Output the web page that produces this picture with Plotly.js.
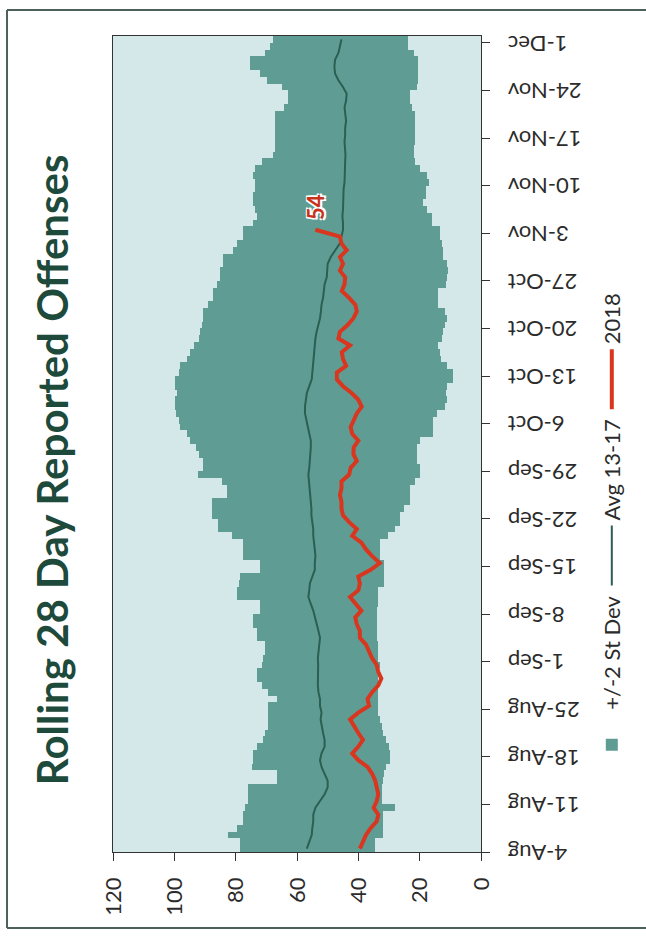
<!DOCTYPE html>
<html>
<head>
<meta charset="utf-8">
<script src="https://cdn.plot.ly/plotly-3.0.1.min.js"></script>
<style>
  html, body { margin: 0; padding: 0; background: #ffffff; overflow: hidden; }
  #wrap { position: absolute; left: 0; top: 0; width: 936px; height: 646px;
          transform-origin: 0 0; transform: translateY(936px) rotate(-90deg); }
  #chart { width: 936px; height: 646px; }
</style>
</head>
<body>
<div id="wrap"><div id="chart"></div></div>
<script>
// ---- data ----
const startDate = '2018-08-04';
const dayCount = 120;

const upperBand = [
  78.6, 78.6, 82.4, 79.7, 77.5, 77.5, 77, 76, 75.9, 75.9,
  66.6, 66.6, 74.8, 74.3, 74.3, 73, 71, 70.4, 69.4, 69.4,
  69.4, 69.4, 66.6, 69.4, 71.5, 73.2, 73.2, 71.5, 71, 70.4,
  70.4, 73.2, 73.2, 74.3, 74.3, 72.1, 72.1, 79.7, 79.7, 79,
  78.6, 72.1, 72.1, 77.5, 77.5, 77.5, 81.3, 85.6, 85.6, 87.8,
  87.8, 87.8, 82.9, 82.9, 84.6, 92.2, 90.6, 90.6, 92, 93,
  95, 96, 98, 98.5, 99.5, 99.8, 99.8, 99, 99.8, 99.8,
  98.5, 98, 96, 94.9, 93.5, 92, 91.7, 91, 90.6, 90.6,
  89, 87.3, 87.3, 86, 85.1, 85.1, 84, 84, 81, 79.7,
  77.5, 77.5, 74.3, 73.2, 73.7, 74.3, 74.3, 73.7, 73.7, 74.3,
  73.7, 71.5, 67.7, 67.1, 67.1, 67.1, 67.1, 67.1, 67.1, 64.4,
  62.8, 62.8, 65, 69.9, 72.1, 75.4, 75.4, 70.4, 68.8, 67.7
];

const lowerBand = [
  34.6, 34.6, 31.9, 31.9, 31.9, 31.9, 28, 32.4, 32.4, 32.4,
  32, 31.5, 31, 29.7, 29.7, 30, 31, 32, 32.4, 33,
  33.5, 33.5, 33.5, 33.5, 33.5, 33.5, 33.5, 33, 33.5, 33.5,
  33.5, 33.9, 33.9, 33.9, 33.9, 33.9, 33.5, 33.5, 33.5, 31.5,
  31.5, 31.5, 31.5, 32.9, 32.9, 32.9, 30.2, 28, 26.4, 26.4,
  25, 23.1, 23.1, 23.1, 21.5, 19.9, 19.9, 21, 21, 21,
  19.9, 15.6, 15.6, 15.6, 14.5, 11.8, 11.2, 11.5, 11.2, 9.1,
  9.1, 11.2, 13, 13.5, 14, 12.8, 12.3, 11.7, 11.2, 11.7,
  14, 14, 14, 11.5, 11.2, 10.8, 11.2, 12.3, 12.3, 12.8,
  13.4, 13.4, 16, 16, 17.5, 19, 18, 18, 17, 17.5,
  20, 21.5, 22, 22, 21.5, 21.5, 21.5, 21.5, 21.5, 22.5,
  23.1, 23.1, 21, 20.5, 20.5, 20.5, 20.5, 22, 23.8, 23.8
];

const avg1317 = [
  56.8, 56, 55.2, 55, 54.7, 54.7, 54, 52.5, 51, 50,
  50, 51, 52, 52.5, 52, 51, 51, 51.5, 52, 52.3,
  52, 52.5, 52.5, 53, 53.2, 53.1, 53, 53.1, 53.2, 53,
  52.8, 52.5, 53, 53.5, 54.2, 54.7, 55.5, 56.3, 56, 55.8,
  55, 54.2, 54.2, 54, 54.2, 54.5, 54.7, 54.7, 55, 55.3,
  55.3, 55.5, 55.8, 56, 56.3, 56.3, 56, 55.8, 55.5, 55.5,
  55.5, 56, 56.5, 57, 57.4, 57.4, 57, 56.8, 56, 55.2,
  55, 54.8, 54.7, 54.5, 54.2, 54, 53.6, 53, 52.5, 52.2,
  52, 51.5, 51.2, 51, 50.3, 50.2, 50, 49, 47.5, 46,
  45.5, 45, 45, 45.2, 45, 45, 45, 44.8, 44.5, 44.5,
  44.3, 44.3, 44.2, 44.3, 44.5, 44.3, 44.3, 44, 44.2, 44.5,
  44, 43.8, 45, 46.5, 47.6, 47.8, 47.6, 46.5, 46, 45.5
];

const y2018 = [
  39.5, 38.5, 37.5, 36, 34, 33.5, 35, 34, 33.5, 34,
  34.5, 35.5, 37, 40, 42, 40, 38.5, 40, 41.5, 42.7,
  40, 36.5, 37, 35.5, 33.5, 32.5, 33.5, 34, 35.5, 36.5,
  37.5, 39.5, 39.5, 40.5, 41, 39, 41, 42.7, 40, 39.5,
  40, 36, 33, 35.5, 37.5, 39, 42, 40.5, 43, 45,
  45.5, 45.5, 46, 45.5, 45.5, 43, 42.5, 40.5, 41.6, 41.5,
  40, 42, 42.5, 41.6, 40.5, 38.9, 40, 42.2, 45, 47,
  47, 44, 45, 45.4, 42.7, 46.5, 46, 43.5, 41.6, 40.5,
  41, 43, 45.4, 44.5, 44.3, 46, 45, 46, 43.8, 45.5,
  46, 54
];

const seriesNames = ['+/-2 St Dev', 'Avg 13-17', '2018'];
const chartTitle = 'Rolling 28 Day Reported Offenses';

// daily date categories
const dates = [];
for (let i = 0; i < dayCount; i++) {
  const d = new Date(Date.UTC(2018, 7, 4 + i));
  dates.push(d.toISOString().slice(0, 10));
}
const DAY = 86400000;

const FONT = 'Lato, "Open Sans", sans-serif';

const traces = [
  {
    type: 'bar',
    name: seriesNames[0],
    x: dates,
    base: lowerBand,
    y: upperBand.map((u, i) => u - lowerBand[i]),
    xperiod: DAY,
    xperiodalignment: 'middle',
    marker: { color: '#5f9d94', line: { width: 0 } },
    hoverinfo: 'skip'
  },
  {
    type: 'scatter',
    mode: 'lines',
    name: seriesNames[1],
    x: dates,
    y: avg1317,
    xperiod: DAY,
    xperiodalignment: 'middle',
    line: { color: '#2a5f52', width: 2 }
  },
  {
    type: 'scatter',
    mode: 'lines',
    name: seriesNames[2],
    x: dates.slice(0, y2018.length),
    y: y2018,
    xperiod: DAY,
    xperiodalignment: 'middle',
    line: { color: '#d8361f', width: 4 }
  }
];

const lastIdx = y2018.length - 1;

const layout = {
  width: 936,
  height: 646,
  margin: { l: 84, r: 36, t: 113, b: 165 },
  paper_bgcolor: '#ffffff',
  plot_bgcolor: '#d5e8e9',
  font: { family: FONT, color: '#2b2b2b' },
  bargap: 0,
  showlegend: true,
  title: {
    text: chartTitle,
    font: { family: FONT, size: 42, weight: 'bold', color: '#1d4a3b' },
    x: 0.498, xref: 'container', xanchor: 'center',
    y: 0.918, yref: 'container', yanchor: 'middle'
  },
  xaxis: {
    type: 'date',
    range: ['2018-08-04', '2018-12-02'],
    tick0: '2018-08-04',
    dtick: 7 * DAY,
    tickformat: '%-d-%b',
    tickangle: -90,
    ticks: 'outside',
    ticklen: 8,
    tickcolor: '#333',
    ticklabelstandoff: 9,
    tickfont: { family: FONT, size: 22, color: '#2b2b2b' },
    showgrid: false,
    showline: true,
    linecolor: '#333',
    linewidth: 1,
    mirror: true,
    zeroline: false
  },
  yaxis: {
    range: [0, 120],
    dtick: 20,
    ticks: 'outside',
    ticklen: 8,
    tickcolor: '#333',
    ticklabelstandoff: 12,
    tickfont: { family: FONT, size: 22, color: '#2b2b2b' },
    showgrid: false,
    showline: true,
    linecolor: '#333',
    linewidth: 1,
    mirror: true,
    zeroline: false
  },
  legend: {
    orientation: 'h',
    x: 0.39, xanchor: 'center',
    y: -0.356, yanchor: 'middle',
    font: { family: FONT, size: 22, color: '#2b2b2b' },
    itemwidth: 60,
    bgcolor: 'rgba(0,0,0,0)',
    traceorder: 'normal'
  },
  annotations: [
    {
      x: dates[lastIdx], y: y2018[lastIdx],
      xref: 'x', yref: 'y',
      text: '<b>' + y2018[lastIdx] + '</b>',
      showarrow: false,
      xanchor: 'center', yanchor: 'middle',
      xshift: 26,
      font: { family: FONT, size: 22, color: '#c8321d',
              shadow: '-1.5px -1.5px 0 #fff, 1.5px -1.5px 0 #fff, -1.5px 1.5px 0 #fff, 1.5px 1.5px 0 #fff' }
    }
  ],
  shapes: [
    { type: 'line', xref: 'paper', yref: 'paper', x0: -0.0931, x1: 1.0319, y0: 1.288, y1: 1.288,
      line: { color: '#4d615c', width: 2 } },
    { type: 'line', xref: 'paper', yref: 'paper', x0: -0.0931, x1: -0.0931, y0: 1.288, y1: -0.47,
      line: { color: '#4d615c', width: 2 } },
    { type: 'line', xref: 'paper', yref: 'paper', x0: 1.0319, x1: 1.0319, y0: 1.288, y1: -0.47,
      line: { color: '#4d615c', width: 2 } }
  ]
};

Plotly.newPlot('chart', traces, layout, { displayModeBar: false, staticPlot: true });
</script>
</body>
</html>
